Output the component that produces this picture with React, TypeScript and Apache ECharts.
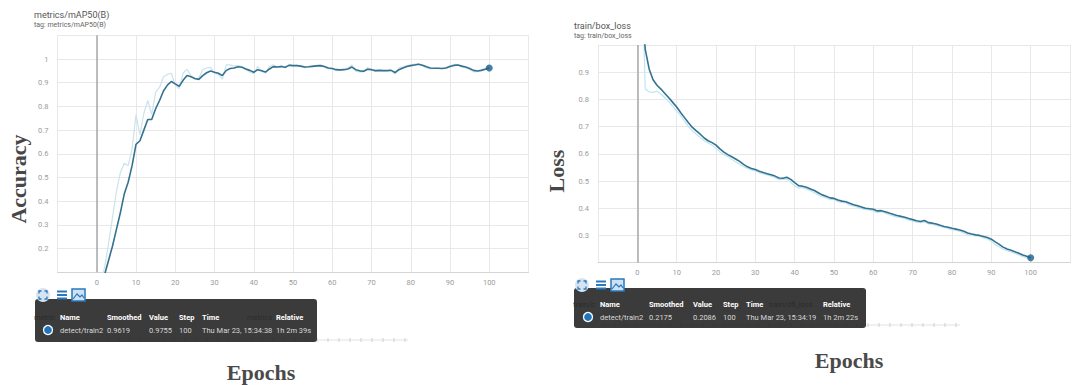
import React, { useEffect, useRef } from "react";
import * as echarts from "echarts";

// ---- data ----
const epochs = Array.from({ length: 101 }, (_, i) => i);

const accSmoothed = [
  0.01, 0.04, 0.09, 0.15, 0.21, 0.28, 0.35, 0.43, 0.48, 0.55,
  0.64, 0.655, 0.7, 0.745, 0.745, 0.79, 0.825, 0.865, 0.89, 0.905,
  0.895, 0.885, 0.91, 0.93, 0.925, 0.918, 0.914, 0.93, 0.942, 0.949,
  0.944, 0.94, 0.93, 0.952, 0.96, 0.962, 0.967, 0.965, 0.958, 0.952,
  0.944, 0.955, 0.95, 0.945, 0.958, 0.968, 0.966, 0.968, 0.965, 0.973,
  0.972, 0.972, 0.97, 0.966, 0.967, 0.969, 0.971, 0.972, 0.968, 0.962,
  0.96, 0.955, 0.954, 0.955, 0.958, 0.966, 0.955, 0.95, 0.948, 0.957,
  0.955, 0.951, 0.952, 0.951, 0.951, 0.952, 0.943, 0.955, 0.962, 0.968,
  0.972, 0.975, 0.978, 0.974, 0.967, 0.962, 0.961, 0.961, 0.96, 0.962,
  0.968, 0.973, 0.975, 0.97, 0.966, 0.96, 0.952, 0.949, 0.952, 0.957,
  0.9619,
];

const accRaw = [
  0.01, 0.06, 0.12, 0.22, 0.33, 0.44, 0.52, 0.56, 0.55, 0.62,
  0.765, 0.68, 0.77, 0.825, 0.765, 0.86, 0.88, 0.925, 0.935, 0.94,
  0.89, 0.875, 0.94, 0.957, 0.93, 0.915, 0.92, 0.955, 0.962, 0.965,
  0.94, 0.935, 0.915, 0.975, 0.975, 0.97, 0.972, 0.968, 0.955, 0.945,
  0.938, 0.968, 0.948, 0.94, 0.968, 0.975, 0.965, 0.972, 0.962, 0.978,
  0.972, 0.973, 0.968, 0.962, 0.968, 0.971, 0.973, 0.973, 0.965, 0.958,
  0.958, 0.951, 0.953, 0.956, 0.962, 0.975, 0.948, 0.946, 0.946, 0.964,
  0.954, 0.948, 0.953, 0.95, 0.951, 0.953, 0.936, 0.963, 0.967, 0.972,
  0.975, 0.978, 0.98, 0.971, 0.962, 0.958, 0.96, 0.961, 0.959, 0.964,
  0.972, 0.977, 0.976, 0.966, 0.963, 0.956, 0.946, 0.947, 0.955, 0.961,
  0.9755,
];

const lossSmoothed = [
  1.45, 1.2, 0.985, 0.912, 0.872, 0.852, 0.838, 0.822, 0.806, 0.789,
  0.772, 0.752, 0.733, 0.714, 0.697, 0.684, 0.672, 0.658, 0.648, 0.641,
  0.632, 0.618, 0.606, 0.597, 0.589, 0.581, 0.572, 0.561, 0.552, 0.546,
  0.542, 0.536, 0.531, 0.527, 0.523, 0.518, 0.511, 0.51, 0.514, 0.506,
  0.494, 0.483, 0.481, 0.477, 0.471, 0.465, 0.457, 0.449, 0.444, 0.438,
  0.436, 0.43, 0.426, 0.424, 0.418, 0.413, 0.409, 0.404, 0.4, 0.398,
  0.396, 0.39, 0.391, 0.387, 0.382, 0.378, 0.373, 0.37, 0.367, 0.362,
  0.358, 0.354, 0.351, 0.355, 0.347, 0.345, 0.342, 0.337, 0.333, 0.33,
  0.326, 0.323, 0.32, 0.315, 0.309, 0.305, 0.302, 0.3, 0.296, 0.292,
  0.286, 0.276, 0.267, 0.257, 0.25, 0.245, 0.24, 0.234, 0.228, 0.223,
  0.2175,
];

const lossRaw = [
  1.6, 1.4, 0.838, 0.828, 0.826, 0.83, 0.82, 0.806, 0.792, 0.774,
  0.758, 0.74, 0.72, 0.7, 0.684, 0.672, 0.66, 0.648, 0.64, 0.632,
  0.62, 0.607, 0.597, 0.59, 0.58, 0.571, 0.562, 0.553, 0.546, 0.541,
  0.537, 0.531, 0.526, 0.522, 0.518, 0.512, 0.505, 0.506, 0.508, 0.495,
  0.482, 0.474, 0.476, 0.47, 0.464, 0.457, 0.449, 0.442, 0.438, 0.432,
  0.432, 0.424, 0.421, 0.42, 0.411, 0.408, 0.404, 0.398, 0.395, 0.394,
  0.39, 0.384, 0.388, 0.382, 0.376, 0.372, 0.367, 0.366, 0.362, 0.356,
  0.353, 0.349, 0.347, 0.35, 0.342, 0.341, 0.337, 0.332, 0.329, 0.326,
  0.321, 0.319, 0.315, 0.309, 0.303, 0.301, 0.298, 0.297, 0.291, 0.287,
  0.279, 0.266, 0.258, 0.249, 0.244, 0.239, 0.234, 0.228, 0.222, 0.218,
  0.2086,
];

const tooltipHeaders = ["Name", "Smoothed", "Value", "Step", "Time", "Relative"];
const accRow = ["detect/train2", "0.9619", "0.9755", "100", "Thu Mar 23, 15:34:38", "1h 2m 39s"];
const lossRow = ["detect/train2", "0.2175", "0.2086", "100", "Thu Mar 23, 15:34:19", "1h 2m 22s"];

const FONT = "Roboto, 'Noto Sans', sans-serif";
const SERIF = "'Liberation Serif', 'Times New Roman', 'DejaVu Serif', serif";
const SMOOTH_COLOR = "#35728f";
const DOT_COLOR = "#1e5f8a";
const ICON_BLUE = "#2a78bd";

function pairs(vals: number[]) {
  return epochs.map((e, i) => [e, vals[i]]);
}

function iconGroup(x: number, y: number) {
  return [
    { type: "circle", shape: { cx: x, cy: y, r: 7 }, style: { fill: "#d6e4f2" }, z: 20 },
    {
      type: "polyline",
      shape: { points: [[x - 4, y - 1.5], [x - 4, y - 4], [x - 1.5, y - 4]] },
      style: { stroke: ICON_BLUE, lineWidth: 1.3, fill: "none" }, z: 21,
    },
    {
      type: "polyline",
      shape: { points: [[x + 1.5, y - 4], [x + 4, y - 4], [x + 4, y - 1.5]] },
      style: { stroke: ICON_BLUE, lineWidth: 1.3, fill: "none" }, z: 21,
    },
    {
      type: "polyline",
      shape: { points: [[x - 4, y + 1.5], [x - 4, y + 4], [x - 1.5, y + 4]] },
      style: { stroke: ICON_BLUE, lineWidth: 1.3, fill: "none" }, z: 21,
    },
    {
      type: "polyline",
      shape: { points: [[x + 1.5, y + 4], [x + 4, y + 4], [x + 4, y + 1.5]] },
      style: { stroke: ICON_BLUE, lineWidth: 1.3, fill: "none" }, z: 21,
    },
    ...[-3.5, 0, 3.5].map((dy) => ({
      type: "line",
      shape: { x1: x + 14, y1: y + dy, x2: x + 24, y2: y + dy },
      style: { stroke: ICON_BLUE, lineWidth: 2 }, z: 21,
    })),
    {
      type: "rect",
      shape: { x: x + 29, y: y - 6, width: 13, height: 12 },
      style: { fill: "#cfe2f4", stroke: ICON_BLUE, lineWidth: 1.5 }, z: 21,
    },
    {
      type: "polyline",
      shape: { points: [[x + 30, y + 4], [x + 34, y - 1], [x + 37, y + 2], [x + 39, y], [x + 41, y + 3]] },
      style: { stroke: ICON_BLUE, lineWidth: 1.2, fill: "none" }, z: 22,
    },
  ];
}

function tooltipBox(
  bx: number, by: number, bw: number, bh: number,
  cols: number[], headerY: number, rowY: number, circleX: number,
  row: string[], ghosts: { text: string; x: number; y: number; w: number }[],
  ticks: { x1: number; x2: number; y: number }
) {
  const els: any[] = [];
  ghosts.forEach((g) =>
    els.push({
      type: "text", x: g.x, y: g.y, z: 5,
      style: {
        text: g.text, fill: "#5a5a5a", font: `7.5px ${FONT}`, textVerticalAlign: "middle",
        width: g.w, overflow: "truncate", ellipsis: "",
      },
    })
  );
  els.push({
    type: "line", shape: { x1: ticks.x1, y1: ticks.y, x2: ticks.x2, y2: ticks.y },
    style: { stroke: "#e2e2e2", lineWidth: 1 }, z: 5,
  });
  for (let tx = ticks.x1 + 4; tx < ticks.x2; tx += 11) {
    els.push({
      type: "line", shape: { x1: tx, y1: ticks.y - 2, x2: tx, y2: ticks.y + 2 },
      style: { stroke: "#cfcfcf", lineWidth: 1 }, z: 5,
    });
  }
  els.push({
    type: "rect", shape: { x: bx, y: by, width: bw, height: bh, r: 3 },
    style: { fill: "rgba(38,38,38,0.9)" }, z: 10,
  });
  tooltipHeaders.forEach((h, i) =>
    els.push({
      type: "text", x: cols[i], y: headerY, z: 11,
      style: { text: h, fill: "#ffffff", font: `bold 7.5px ${FONT}`, textVerticalAlign: "middle" },
    })
  );
  row.forEach((t, i) =>
    els.push({
      type: "text", x: cols[i], y: rowY, z: 11,
      style: { text: t, fill: "#d8d8d8", font: `7.5px ${FONT}`, textVerticalAlign: "middle" },
    })
  );
  els.push({
    type: "circle", shape: { cx: circleX, cy: rowY, r: 4.5 },
    style: { fill: "#1f74bb", stroke: "#ffffff", lineWidth: 1.3 }, z: 11,
  });
  return els;
}

function lineSeries(xi: number, raw: number[], smooth: number[], rawColor: string) {
  return [
    {
      type: "line", xAxisIndex: xi, yAxisIndex: xi, data: pairs(raw),
      showSymbol: false, silent: true, clip: true, z: 2,
      lineStyle: { color: rawColor, width: 1.2 },
      markLine: {
        silent: true, symbol: "none", label: { show: false },
        lineStyle: { color: "#a9a9a9", width: 1.5, type: "solid" },
        data: [{ xAxis: 0 }],
      },
    },
    {
      type: "line", xAxisIndex: xi, yAxisIndex: xi, data: pairs(smooth),
      showSymbol: false, silent: true, clip: true, z: 3,
      lineStyle: { color: SMOOTH_COLOR, width: 1.6 },
    },
    {
      type: "scatter", xAxisIndex: xi, yAxisIndex: xi,
      data: [[epochs[100], smooth[100]]], symbolSize: 7, z: 4, silent: true,
      itemStyle: { color: DOT_COLOR },
    },
  ];
}

function xAxisCfg(gi: number) {
  return {
    type: "value", gridIndex: gi, min: -10, max: 110, interval: 10,
    axisLine: { show: true, onZero: false, lineStyle: { color: "#d4d4d4", width: 1 } },
    axisTick: { show: false },
    axisLabel: {
      color: "#9c9c9c", fontSize: 7.5, fontFamily: FONT, margin: 6,
      formatter: (v: number) => (v < 0 || v > 100 ? "" : String(v)),
    },
    splitLine: { show: true, lineStyle: { color: "#e8e8e8", width: 1 } },
  };
}

function yAxisCfg(gi: number, min: number, max: number) {
  return {
    type: "value", gridIndex: gi, min, max, interval: 0.1,
    axisLine: { show: false }, axisTick: { show: false },
    axisLabel: {
      color: "#9c9c9c", fontSize: 7.5, fontFamily: FONT, margin: 9,
      formatter: (v: number) =>
        v < min + 0.05 || v > max - 0.05 ? "" : String(Math.round(v * 10) / 10),
    },
    splitLine: { show: true, lineStyle: { color: "#e8e8e8", width: 1 } },
  };
}

export default function App() {
  const ref = useRef<HTMLDivElement>(null);
  useEffect(() => {
    if (!ref.current) return;
    const chart = echarts.init(ref.current, undefined, { renderer: "svg" });
    const graphic: any[] = [
      // titles
      { type: "text", x: 34, y: 15, style: { text: "metrics/mAP50(B)", fill: "#555", font: `9px ${FONT}`, textVerticalAlign: "middle" } },
      { type: "text", x: 34, y: 25, style: { text: "tag: metrics/mAP50(B)", fill: "#666", font: `7px ${FONT}`, textVerticalAlign: "middle" } },
      { type: "text", x: 574, y: 26, style: { text: "train/box_loss", fill: "#555", font: `9px ${FONT}`, textVerticalAlign: "middle" } },
      { type: "text", x: 574, y: 36, style: { text: "tag: train/box_loss", fill: "#666", font: `7px ${FONT}`, textVerticalAlign: "middle" } },
      // axis names
      { type: "text", x: 18, y: 179, rotation: Math.PI / 2, style: { text: "Accuracy", fill: "#474747", font: `bold 22px ${SERIF}`, textAlign: "center", textVerticalAlign: "middle" } },
      { type: "text", x: 556, y: 171, rotation: Math.PI / 2, style: { text: "Loss", fill: "#474747", font: `bold 22px ${SERIF}`, textAlign: "center", textVerticalAlign: "middle" } },
      { type: "text", x: 261, y: 372, style: { text: "Epochs", fill: "#4a4a4a", font: `bold 22px ${SERIF}`, textAlign: "center", textVerticalAlign: "middle" } },
      { type: "text", x: 849, y: 360, style: { text: "Epochs", fill: "#4a4a4a", font: `bold 22px ${SERIF}`, textAlign: "center", textVerticalAlign: "middle" } },
      ...iconGroup(43, 295),
      ...iconGroup(582, 285),
      ...tooltipBox(
        35, 299, 282, 43,
        [60, 107, 149, 179, 202, 276], 317, 330, 48, accRow,
        [
          { text: "metrics/mAP50-95(B)", x: 34, y: 317, w: 24 },
          { text: "metrics/precision(B)", x: 247, y: 317, w: 27 },
        ],
        { x1: 60, x2: 408, y: 340 }
      ),
      ...tooltipBox(
        574, 288, 292, 40,
        [600, 649, 693, 723, 746, 823], 304, 317, 588, lossRow,
        [
          { text: "train/cls_loss", x: 573, y: 304, w: 25 },
          { text: "train/dfl_loss", x: 769, y: 304, w: 50 },
        ],
        { x1: 600, x2: 960, y: 325 }
      ),
    ];
    chart.setOption({
      animation: false,
      backgroundColor: "#ffffff",
      grid: [
        { left: 57.5, top: 35.3, width: 471, height: 237 },
        { left: 598, top: 45, width: 484.6, height: 217.6 },
      ],
      xAxis: [xAxisCfg(0), xAxisCfg(1)],
      yAxis: [yAxisCfg(0, 0.1, 1.1), yAxisCfg(1, 0.2, 1.0)],
      series: [
        ...lineSeries(0, accRaw, accSmoothed, "#cbe3ec"),
        ...lineSeries(1, lossRaw, lossSmoothed, "#bfe5f3"),
      ],
      graphic,
    });
    return () => chart.dispose();
  }, []);
  return (
    <div
      ref={ref}
      style={{ position: "fixed", left: 0, top: 0, width: 1073, height: 385, background: "#fff" }}
    />
  );
}
